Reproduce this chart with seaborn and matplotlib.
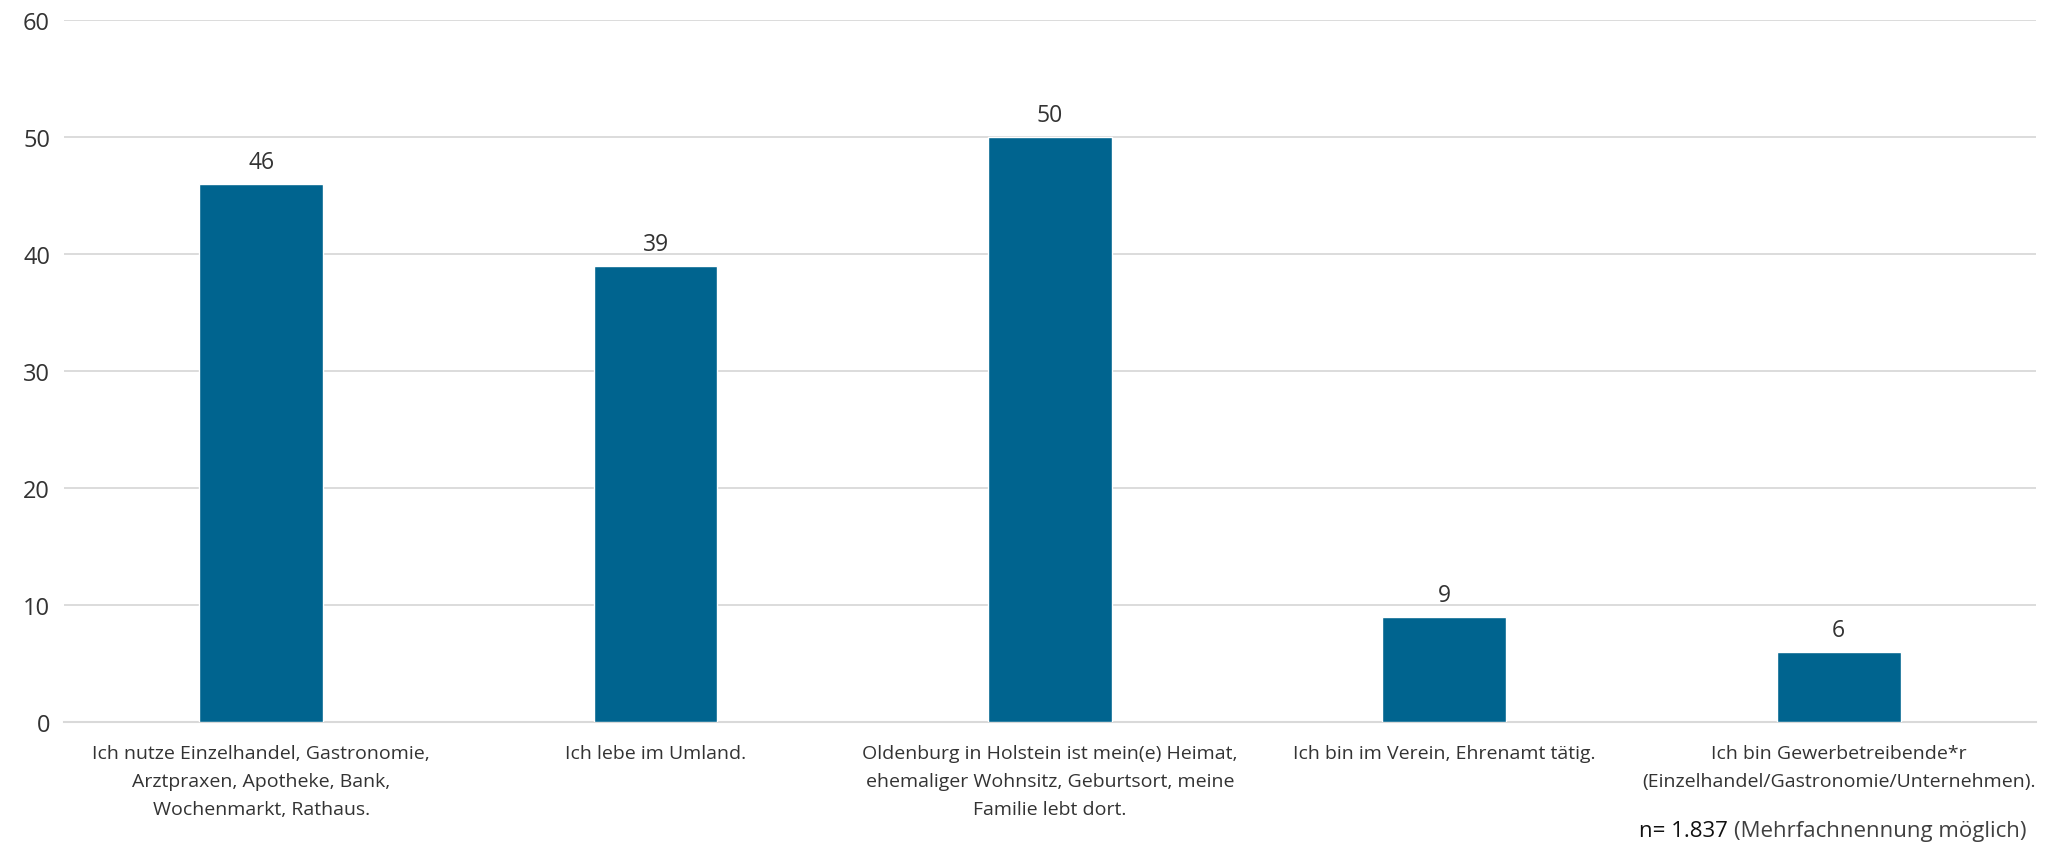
import pandas as pd
import matplotlib.pyplot as plt
import seaborn as sns

# Daten
kategorien = [
    'Ich nutze Einzelhandel, Gastronomie,\nArztpraxen, Apotheke, Bank,\nWochenmarkt, Rathaus.',
    'Ich lebe im Umland.',
    'Oldenburg in Holstein ist mein(e) Heimat,\nehemaliger Wohnsitz, Geburtsort, meine\nFamilie lebt dort.',
    'Ich bin im Verein, Ehrenamt tätig.',
    'Ich bin Gewerbetreibende*r\n(Einzelhandel/Gastronomie/Unternehmen).',
]
werte = [46, 39, 50, 9, 6]
y_ticks = [0, 10, 20, 30, 40, 50, 60]

df = pd.DataFrame({'kategorie': kategorien, 'wert': werte})

sns.set_style('white')
plt.rcParams['font.family'] = ['Open Sans', 'DejaVu Sans']

fig = plt.figure(figsize=(20.49, 8.53), dpi=100)
ax = fig.add_axes([0.0312, 0.1524, 0.9624, 0.823])

sns.barplot(data=df, x='kategorie', y='wert', color='#00648f', width=0.314,
            saturation=1, ax=ax, zorder=3)

ax.bar_label(ax.containers[0], padding=7, fontsize=16.5, color='#333333')

ax.set_ylim(0, 60)
ax.set_yticks(y_ticks)
ax.set_xlim(-0.5, len(kategorien) - 0.5)
ax.yaxis.grid(True, color='#d9d9d9', linewidth=1.3, zorder=0)
ax.set_axisbelow(True)
for s in ['top', 'right', 'left']:
    ax.spines[s].set_visible(False)
ax.spines['bottom'].set_color('#d9d9d9')
ax.spines['bottom'].set_linewidth(1.5)

ax.set_xlabel('')
ax.set_ylabel('')
ax.tick_params(axis='y', length=0, labelsize=17, labelcolor='#333333', pad=10)
ax.tick_params(axis='x', length=0, labelsize=14, labelcolor='#333333', pad=16)
for lbl in ax.get_xticklabels():
    lbl.set_linespacing(1.7)

# Fußnote: "n= 1.837" dunkel, Rest grau
t2 = fig.text(0.989, 0.025, '(Mehrfachnennung möglich)', ha='right', va='center',
              fontsize=16, color='#404040')
fig.canvas.draw()
bb = t2.get_window_extent()
x_left = bb.x0 / fig.bbox.width
fig.text(x_left - 0.003, 0.025, 'n= 1.837', ha='right', va='center',
         fontsize=16, color='#111111')

plt.savefig('out.png', dpi=100)
plt.close()
